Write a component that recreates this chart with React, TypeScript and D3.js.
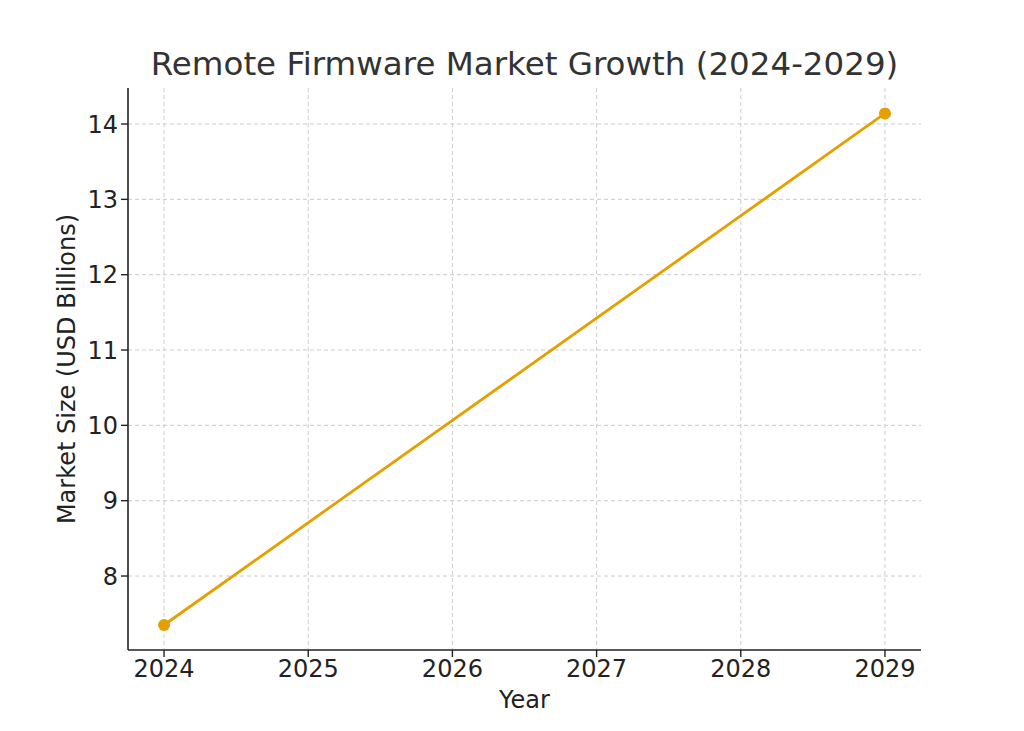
import React from "react";
import * as d3 from "d3";

const years = [2024, 2029];
const marketSize = [7.35, 14.14];
const yTicks = [8, 9, 10, 11, 12, 13, 14];
const xTicks = [2024, 2025, 2026, 2027, 2028, 2029];
const title = "Remote Firmware Market Growth (2024-2029)";
const xLabel = "Year";
const yLabel = "Market Size (USD Billions)";

const W = 1024;
const H = 731;
const L = 128, R = 921, T = 88, B = 650;
const FONT = "'DejaVu Sans', sans-serif";

export default function App() {
  const x = d3.scaleLinear().domain([2023.75, 2029.25]).range([L, R]);
  const y = d3.scaleLinear().domain([7.018, 14.478]).range([B, T]);
  const data = years.map((yr, i) => ({ yr, v: marketSize[i] }));
  const line = d3.line<{ yr: number; v: number }>().x(d => x(d.yr)).y(d => y(d.v));
  const color = "#E69F00";
  return (
    <svg width={W} height={H} style={{ position: "absolute", left: 0, top: 0, background: "#fff" }} fontFamily={FONT}>
      <rect x={0} y={0} width={W} height={H} fill="#fff" />
      {xTicks.map(t => (
        <line key={"gx" + t} x1={x(t)} x2={x(t)} y1={T} y2={B} stroke="#cccccc" strokeWidth={1} strokeDasharray="4,3" />
      ))}
      {yTicks.map(t => (
        <line key={"gy" + t} x1={L} x2={R} y1={y(t)} y2={y(t)} stroke="#cccccc" strokeWidth={1} strokeDasharray="4,3" />
      ))}
      <path d={line(data) || ""} fill="none" stroke={color} strokeWidth={2.8} />
      {data.map(d => (
        <circle key={d.yr} cx={x(d.yr)} cy={y(d.v)} r={6} fill={color} />
      ))}
      <line x1={L} x2={L} y1={T} y2={B} stroke="#222" strokeWidth={1.6} />
      <line x1={L} x2={R} y1={B} y2={B} stroke="#222" strokeWidth={1.6} />
      {yTicks.map(t => (
        <g key={"ty" + t}>
          <line x1={L - 7} x2={L} y1={y(t)} y2={y(t)} stroke="#222" strokeWidth={1.4} />
          <text x={L - 10} y={y(t)} dy="0.36em" textAnchor="end" fontSize={24} fill="#222">{t}</text>
        </g>
      ))}
      {xTicks.map(t => (
        <g key={"tx" + t}>
          <line x1={x(t)} x2={x(t)} y1={B} y2={B + 7} stroke="#222" strokeWidth={1.4} />
          <text x={x(t)} y={677} textAnchor="middle" fontSize={24} fill="#222">{t}</text>
        </g>
      ))}
      <text x={(L + R) / 2} y={708} textAnchor="middle" fontSize={24} fill="#222">{xLabel}</text>
      <text transform={`translate(75,${(T + B) / 2}) rotate(-90)`} textAnchor="middle" fontSize={24} fill="#222">{yLabel}</text>
      <text x={(L + R) / 2} y={75} textAnchor="middle" fontSize={32.5} fill="#333">{title}</text>
    </svg>
  );
}
